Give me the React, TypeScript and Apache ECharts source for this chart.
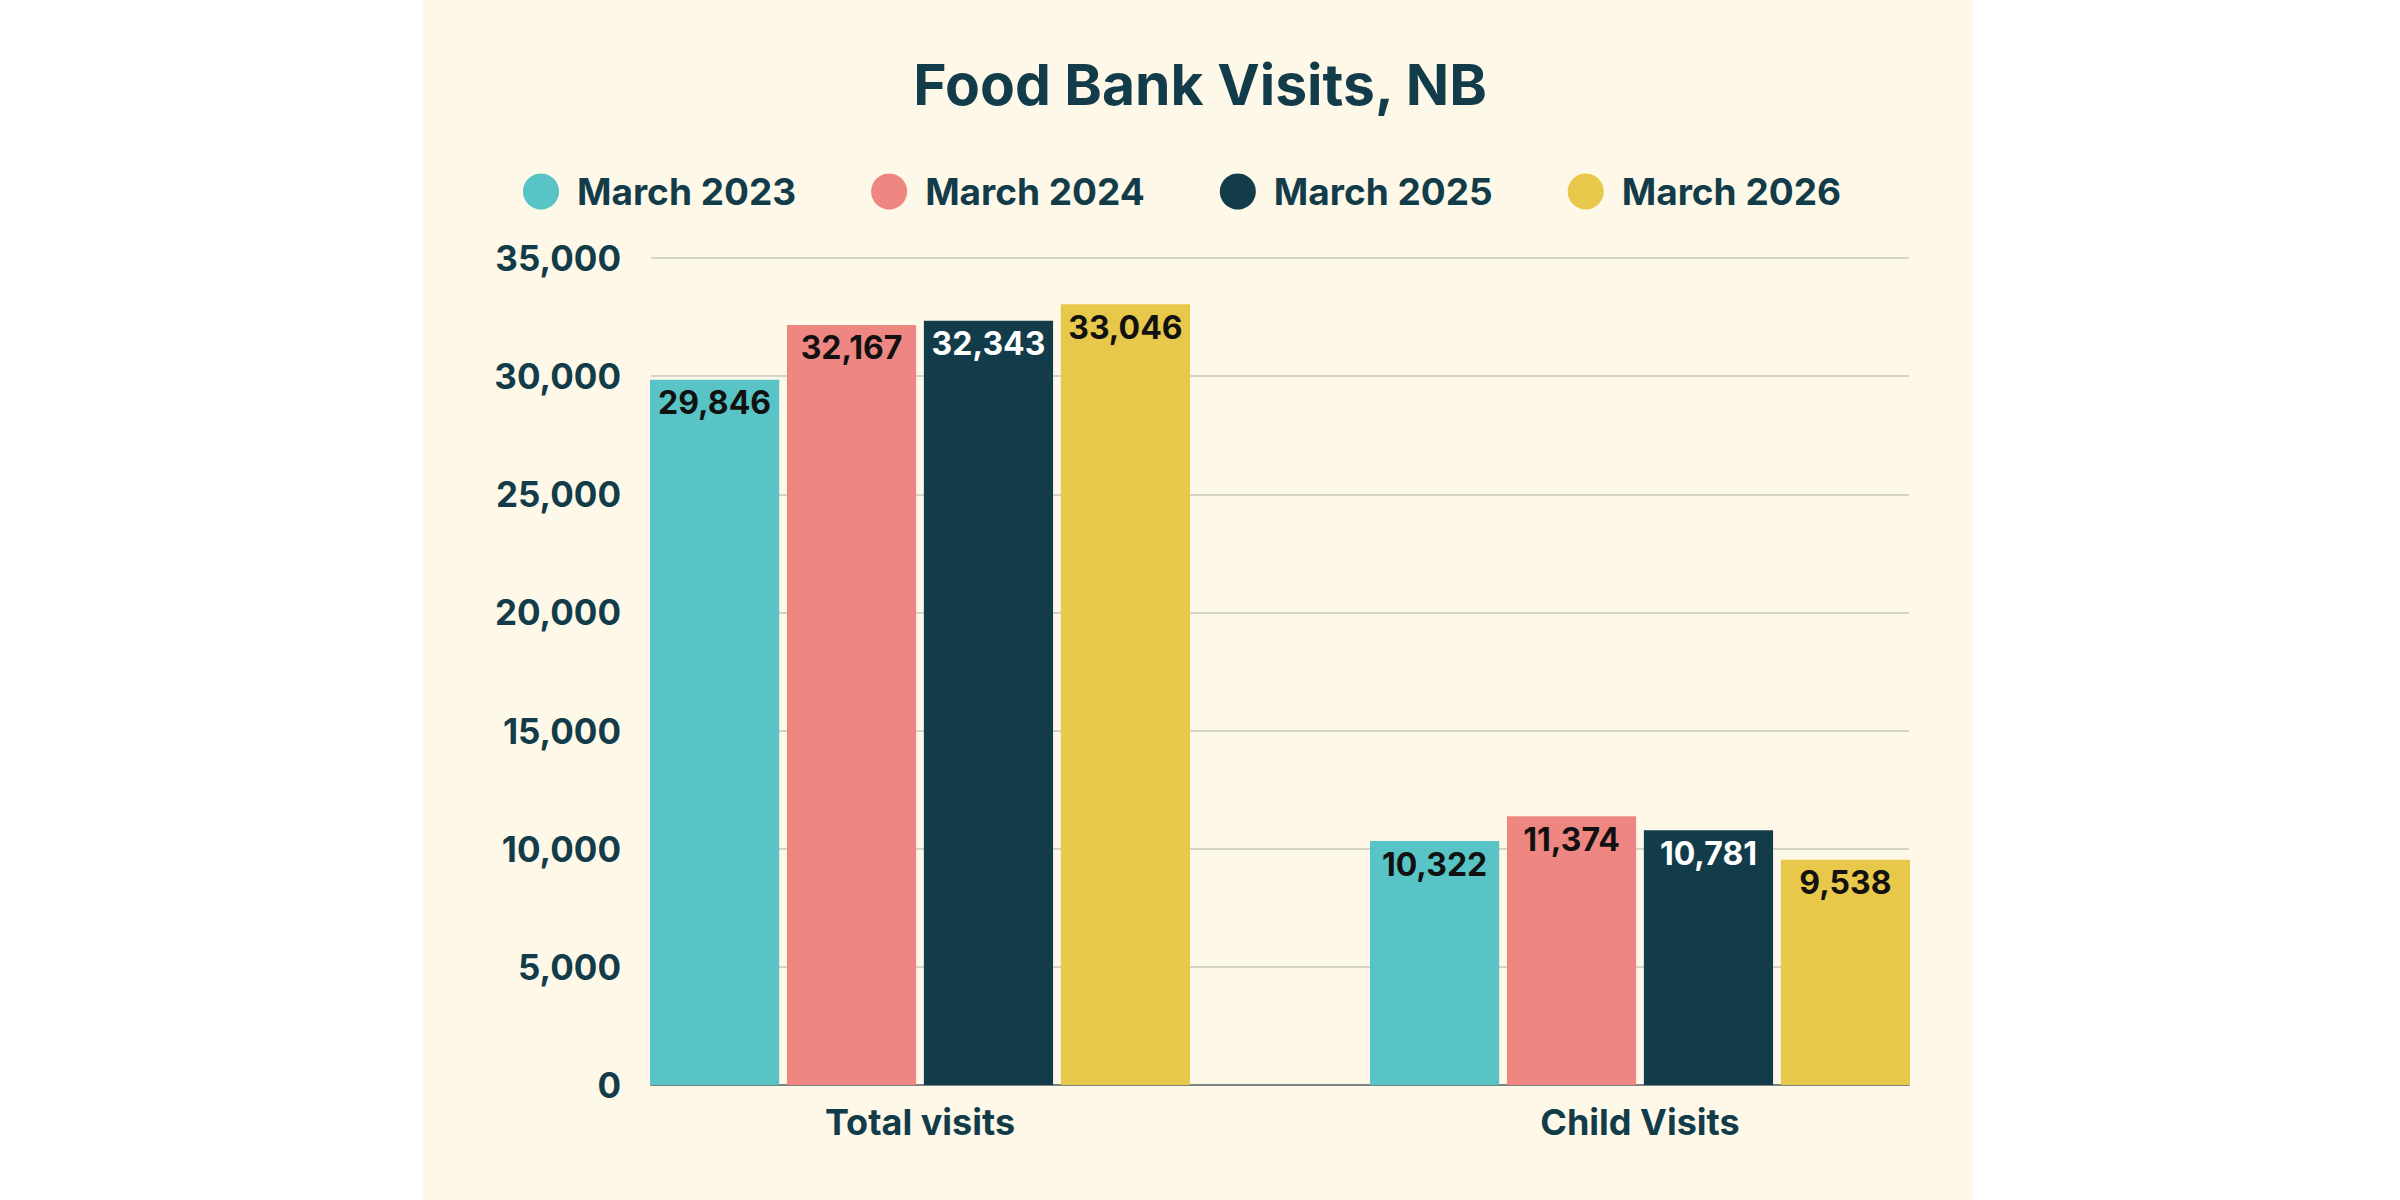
import React, { useEffect, useRef } from 'react';
import * as echarts from 'echarts';

const categories = ['Total visits', 'Child Visits'];
const years = ['March 2023', 'March 2024', 'March 2025', 'March 2026'];
const march2023 = [29846, 10322];
const march2024 = [32167, 11374];
const march2025 = [32343, 10781];
const march2026 = [33046, 9538];
const yTicks = [0, 5000, 10000, 15000, 20000, 25000, 30000, 35000];

const colors = ['#58c4c5', '#ee8781', '#133c4a', '#e8c84b'];
const labelColors = ['#111111', '#111111', '#ffffff', '#111111'];
const ink = '#133c4a';
const font = 'Inter, "Open Sans", sans-serif';

const fmt = (v: number) => v.toLocaleString('en-US');

const App = () => {
  const chartRef = useRef(null);

  useEffect(() => {
    document.body.style.margin = '0';
    const chart = echarts.init(chartRef.current, null, { renderer: 'svg' });

    const values = [march2023, march2024, march2025, march2026];

    const option = {
      animation: false,
      textStyle: { fontFamily: font },
      title: {
        text: 'Food Bank Visits, NB',
        left: 'center',
        top: 51,
        textStyle: { fontSize: 57, fontWeight: 'bold', color: ink, fontFamily: font },
      },
      legend: {
        data: years,
        left: 518,
        top: 168,
        icon: 'circle',
        itemWidth: 36,
        itemHeight: 36,
        itemGap: 75,
        textStyle: {
          fontSize: 37,
          fontWeight: 'bold',
          color: ink,
          fontFamily: font,
          padding: [0, 0, 0, 13],
        },
      },
      grid: [
        { left: 651, right: 491, top: 258, bottom: 115 },
        { left: 560, right: 400, top: 258, bottom: 115 },
      ],
      xAxis: [
        {
          type: 'value',
          gridIndex: 0,
          min: 0,
          max: 1,
          axisLine: { show: true, onZero: false, lineStyle: { color: '#7b8282', width: 2 } },
          axisTick: { show: false },
          axisLabel: { show: false },
          splitLine: { show: false },
        },
        {
          type: 'category',
          gridIndex: 1,
          data: categories,
          axisLine: { show: false },
          axisTick: { show: false },
          axisLabel: {
            fontSize: 36,
            fontWeight: 'bold',
            color: ink,
            fontFamily: font,
            margin: 19,
          },
        },
      ],
      yAxis: [
        {
          type: 'value',
          gridIndex: 0,
          min: yTicks[0],
          max: yTicks[yTicks.length - 1],
          interval: 5000,
          axisLine: { show: false },
          axisTick: { show: false },
          axisLabel: {
            fontSize: 35,
            fontWeight: 'bold',
            color: ink,
            fontFamily: font,
            margin: 30,
            formatter: (v: number) => fmt(v),
          },
          splitLine: { lineStyle: { color: '#d6d4c6', width: 2 } },
        },
        {
          type: 'value',
          gridIndex: 1,
          min: yTicks[0],
          max: yTicks[yTicks.length - 1],
          interval: 5000,
          show: false,
          splitLine: { show: false },
        },
      ],
      series: years.map((name, i) => ({
        name,
        type: 'bar',
        xAxisIndex: 1,
        yAxisIndex: 1,
        data: values[i],
        barCategoryGap: '25%',
        barGap: '6%',
        itemStyle: { color: colors[i] },
        label: {
          show: true,
          position: 'insideTop',
          distance: 7,
          fontSize: 32,
          fontWeight: 'bold',
          color: labelColors[i],
          fontFamily: font,
          formatter: (p: any) => fmt(p.value),
        },
      })),
    };

    chart.setOption(option);

    return () => {
      chart.dispose();
    };
  }, []);

  return (
    <div style={{ position: 'relative', width: 2400, height: 1200, background: '#ffffff' }}>
      <div
        style={{
          position: 'absolute',
          left: 423,
          top: 0,
          width: 1550,
          height: 1200,
          background: '#fef8e8',
        }}
      />
      <div ref={chartRef} style={{ position: 'absolute', left: 0, top: 0, width: 2400, height: 1200 }} />
    </div>
  );
};

export default App;
